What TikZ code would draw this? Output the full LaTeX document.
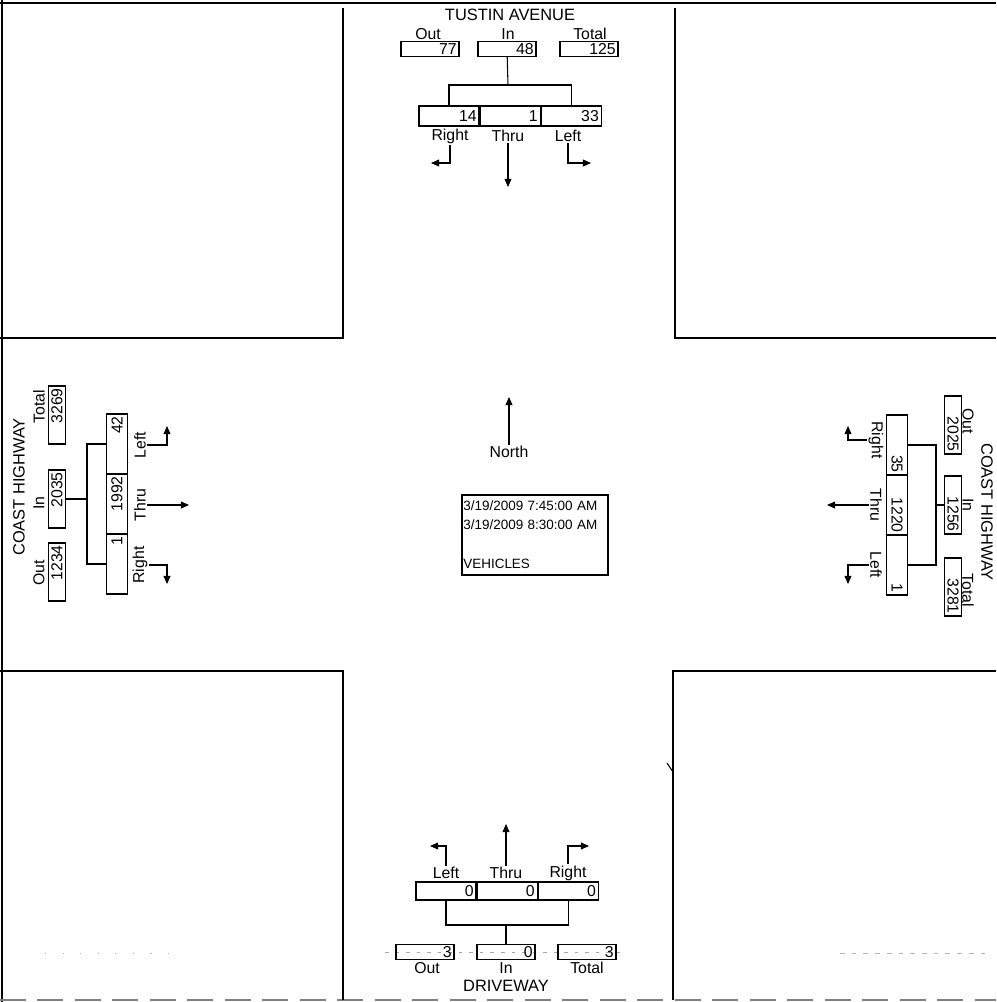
\documentclass[tikz,border=0pt]{standalone}
\usepackage{fontspec}
\setmainfont{Liberation Sans}
\usepackage{xcolor}
\usepackage{tikz}
\usetikzlibrary{arrows.meta,positioning,calc}

\newcommand{\cntfont}{\fontsize{13.5}{15}\selectfont}

\begin{document}
\begin{tikzpicture}[x=0.03cm, y=-0.03cm,
    label/.style={font=\cntfont, inner sep=1pt},
    title/.style={font=\fontsize{14}{16}\selectfont, inner sep=1pt},
    count/.style={rectangle, draw, line width=0.9pt, align=right, inner xsep=2pt, inner ysep=0pt, font=\cntfont},
    tot/.style={count, text width=1.6cm, minimum height=0.44cm},
    totv/.style={count, text width=1.6cm, minimum height=0.52cm},
    move/.style={count, text width=1.66cm, minimum height=0.6cm},
    movev/.style={count, text width=1.66cm, minimum height=0.63cm},
    datebox/.style={rectangle, draw, line width=0.9pt, minimum width=4.38cm, minimum height=2.4cm, text width=4.3cm, align=left, inner xsep=1pt, font=\fontsize{11.5}{16}\selectfont},
    arrow/.style={line width=0.9pt, -{Triangle[length=7pt, width=6pt]}},
    line/.style={line width=0.9pt},
    quad/.style={line width=1pt}
]
    \useasboundingbox (0,0) rectangle (996,1002);

    % Frame and the four corner blocks
    \draw[line width=2.5pt] (0,3) -- (996,3);
    \draw[line width=2pt] (2,0) -- (2,1002);
    \draw[gray, line width=1pt, dash pattern=on 22pt off 10pt] (0,1000) -- (996,1000);
    \draw[quad] (343,8) -- (343,338) -- (0,338);
    \draw[quad] (675,8) -- (675,338) -- (996,338);
    \draw[quad] (0,671) -- (343,671) -- (343,1000);
    \draw[quad] (996,671) -- (673,671) -- (673,1000);
    \draw[line] (667,763) -- (673,772);
    \draw[gray!70, line width=0.6pt, dash pattern=on 3pt off 6pt] (385,952) -- (625,952);
    \draw[gray!60, line width=0.6pt, dash pattern=on 1pt off 14pt] (45,953) -- (170,953);
    \draw[gray!60, line width=0.6pt, dash pattern=on 4pt off 6pt] (840,953) -- (990,953);

    % North approach
    \node[title] (tustin) at (510,15) {TUSTIN AVENUE};
    \node[label] (outT_l) at (428,34) {Out};
    \node[label] (inT_l)  at (508,34) {In};
    \node[label] (totT_l) at (590,34) {Total};
    \node[tot] (outT) at (430,49) {77};
    \node[tot] (inT)  at (507,49) {48};
    \node[tot] (totT) at (589,49) {125};
    \coordinate (jT) at (508,85);
    \node[move] (rT) at (449,116) {14};
    \node[move, right=0pt of rT] (tT) {1};
    \node[move, right=0pt of tT] (lT) {33};
    \node[label] (rT_l) at (450,136) {Right};
    \node[label] (tT_l) at (508,136) {Thru};
    \node[label] (lT_l) at (568,136) {Left};
    \coordinate (aTr) at (431,163);
    \coordinate (aTt) at (508,187);
    \coordinate (aTl) at (591,163);

    \draw[line] (inT) -- (jT);
    \draw[line] (rT.north) |- (jT) -| (lT.north);
    \draw[arrow] (rT_l.south) |- (aTr);
    \draw[arrow] (tT_l) -- (aTt);
    \draw[arrow] (lT_l.south) |- (aTl);

    % South approach
    \coordinate (aBl) at (430,846);
    \coordinate (aBt) at (506,824);
    \coordinate (aBr) at (589,846);
    \node[label] (lB_l) at (446,873) {Left};
    \node[label] (tB_l) at (506,873) {Thru};
    \node[label] (rB_l) at (568,873) {Right};
    \node[move, minimum height=0.54cm] (lB) at (446,891) {0};
    \node[move, minimum height=0.54cm, right=0pt of lB] (tB) {0};
    \node[move, minimum height=0.54cm, right=0pt of tB] (rB) {0};
    \coordinate (jB) at (506,925);
    \node[tot] (outB) at (425,952) {3};
    \node[tot] (inB)  at (506,952) {0};
    \node[tot] (totB) at (587,952) {3};
    \node[label] (outB_l) at (427,968) {Out};
    \node[label] (inB_l)  at (506,968) {In};
    \node[label] (totB_l) at (587,968) {Total};
    \node[title] (driveway) at (506,986) {DRIVEWAY};

    \draw[arrow] (lB_l.north) |- (aBl);
    \draw[arrow] (tB_l) -- (aBt);
    \draw[arrow] (rB_l.north) |- (aBr);
    \draw[line] (lB.south) |- (jB) -| (rB.south);
    \draw[line] (jB) -- (inB);

    % West approach (text turned up)
    \node[title, rotate=90] (coastW) at (19,487) {COAST HIGHWAY};
    \node[label, rotate=90] (totL_l) at (39,407) {Total};
    \node[label, rotate=90] (inL_l)  at (39,503) {In};
    \node[label, rotate=90] (outL_l) at (39,573) {Out};
    \node[totv, rotate=90] (totL) at (57,415) {3269};
    \node[totv, rotate=90] (inL)  at (57,499) {2035};
    \node[totv, rotate=90] (outL) at (57,572) {1234};
    \coordinate (jL) at (87,499);
    \node[movev, rotate=90] (lL) at (117,444) {42};
    \node[movev, rotate=90] (tL) at (117,504) {1992};
    \node[movev, rotate=90] (rL) at (117,564) {1};
    \node[label, rotate=90] (lL_l) at (140,445) {Left};
    \node[label, rotate=90] (tL_l) at (140,505) {Thru};
    \node[label, rotate=90] (rL_l) at (140,565) {Right};
    \coordinate (aLl) at (167,426);
    \coordinate (aLt) at (189,505);
    \coordinate (aLr) at (167,584);

    \draw[line] (inL.south) -- (jL);
    \draw[line] (lL.north) -| (jL) |- (rL.north);
    \draw[arrow] (lL_l.south) -| (aLl);
    \draw[arrow] (tL_l.south) -- (aLt);
    \draw[arrow] (rL_l.south) -| (aLr);

    % East approach (text turned down)
    \node[title, rotate=-90] (coastE) at (987,512) {COAST HIGHWAY};
    \node[label, rotate=-90] (outR_l) at (968,421) {Out};
    \node[label, rotate=-90] (inR_l)  at (968,505) {In};
    \node[label, rotate=-90] (totR_l) at (968,590) {Total};
    \node[totv, rotate=-90] (outR) at (953,425) {2025};
    \node[totv, rotate=-90] (inR)  at (953,505) {1256};
    \node[totv, rotate=-90] (totR) at (953,587) {3281};
    \coordinate (jR) at (936,505);
    \node[movev, rotate=-90] (rR) at (897,445) {35};
    \node[movev, rotate=-90] (tR) at (897,505) {1220};
    \node[movev, rotate=-90] (lR) at (897,565) {1};
    \node[label, rotate=-90] (rR_l) at (876,440) {Right};
    \node[label, rotate=-90] (tR_l) at (876,505) {Thru};
    \node[label, rotate=-90] (lR_l) at (876,565) {Left};
    \coordinate (aRr) at (848,426);
    \coordinate (aRt) at (827,505);
    \coordinate (aRl) at (848,584);

    \draw[line] (inR.south) -- (jR);
    \draw[line] (rR.north) -| (jR) |- (lR.north);
    \draw[arrow] (rR_l.south) -| (aRr);
    \draw[arrow] (tR_l.south) -- (aRt);
    \draw[arrow] (lR_l.south) -| (aRl);

    % North arrow and study period
    \node[label] (north) at (509,452) {North};
    \coordinate (aN) at (509,397);
    \draw[arrow] (north) -- (aN);
    \node[datebox] (period) at (535,535) {3/19/2009 7:45:00 AM\\3/19/2009 8:30:00 AM\\[0.62cm]VEHICLES};

\end{tikzpicture}
\end{document}
